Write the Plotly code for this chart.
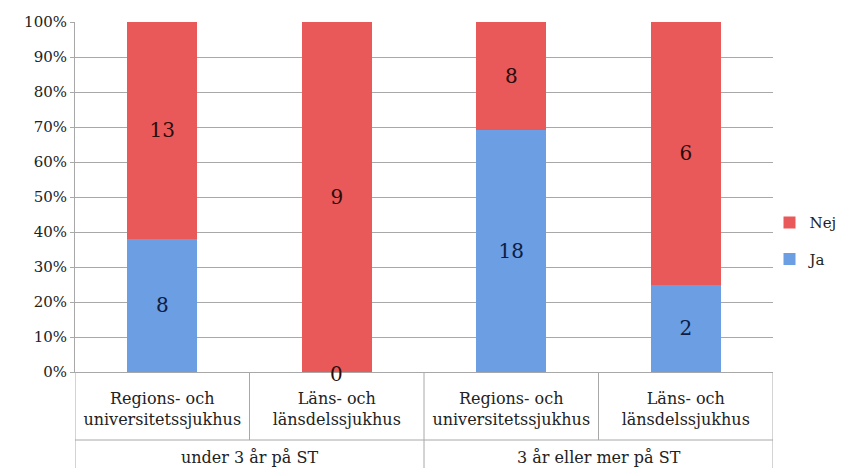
import plotly.graph_objects as go

# ---- data ----
categories = ["Regions- och<br>universitetssjukhus", "Läns- och<br>länsdelssjukhus",
              "Regions- och<br>universitetssjukhus", "Läns- och<br>länsdelssjukhus"]
groups = ["under 3 år på ST", "3 år eller mer på ST"]
ja_values = [8, 0, 18, 2]
nej_values = [13, 9, 8, 6]
y_ticks = [0, 10, 20, 30, 40, 50, 60, 70, 80, 90, 100]
y_ticktext = [f"{v}%" for v in y_ticks]

FONT = "DejaVu Serif"
RED = "#e95959"
BLUE = "#6b9ee3"
LINE = "#a8a8a8"
TXT = "#222222"

xpos = list(range(len(categories)))

fig = go.Figure()
fig.add_trace(go.Bar(
    x=xpos, y=ja_values, name="Ja", width=0.4,
    marker=dict(color=BLUE, line=dict(width=0)),
    text=[str(v) if v else "" for v in ja_values],
    textposition="inside", insidetextanchor="middle",
    textfont=dict(family=FONT, size=20, color="#0d1d45"),
    legendgroup="ja", legendrank=2, hoverinfo="skip",
))
fig.add_trace(go.Bar(
    x=xpos, y=nej_values, name="Nej", width=0.4,
    marker=dict(color=RED, line=dict(width=0)),
    text=[str(v) for v in nej_values],
    textposition="inside", insidetextanchor="middle",
    textfont=dict(family=FONT, size=20, color="#2a0d0d"),
    legendgroup="nej", legendrank=1, hoverinfo="skip",
))

annotations = []
# zero-valued "Ja" labels sit on the baseline
for i, v in enumerate(ja_values):
    if v == 0:
        annotations.append(dict(x=i, y=0, xref="x", yref="y", text=str(v), showarrow=False,
                                font=dict(family=FONT, size=20, color="#2a0d0d"), yshift=-2))
# outer group labels
for g, name in enumerate(groups):
    annotations.append(dict(x=2 * g + 0.5, y=-0.245, xref="x", yref="paper", text=name,
                            showarrow=False, font=dict(family=FONT, size=16, color=TXT),
                            yanchor="middle"))

shapes = []
row_y = -(440 - 372) / 350
bottom_y = -(468 - 372) / 350
for xb in [-0.5, 1.5, 3.5]:
    shapes.append(dict(type="line", xref="x", yref="paper", x0=xb, x1=xb, y0=0, y1=bottom_y,
                       line=dict(color=LINE, width=1)))
for xb in [0.5, 2.5]:
    shapes.append(dict(type="line", xref="x", yref="paper", x0=xb, x1=xb, y0=0, y1=row_y,
                       line=dict(color=LINE, width=1)))
shapes.append(dict(type="line", xref="x", yref="paper", x0=-0.5, x1=3.5, y0=row_y, y1=row_y,
                   line=dict(color=LINE, width=1)))

fig.update_layout(
    width=846, height=468,
    margin=dict(l=75, r=73, t=22, b=96, autoexpand=False),
    barmode="stack", barnorm="percent",
    plot_bgcolor="white", paper_bgcolor="white",
    font=dict(family=FONT, size=15, color=TXT),
    showlegend=True,
    legend=dict(x=0.995, y=0.375, xanchor="left", yanchor="middle",
                traceorder="grouped", tracegroupgap=14,
                font=dict(family=FONT, size=15, color=TXT),
                itemwidth=30, bgcolor="rgba(0,0,0,0)"),
    annotations=annotations,
    shapes=shapes,
)
fig.update_xaxes(
    range=[-0.5, 3.5], tickvals=xpos, ticktext=categories,
    tickfont=dict(family=FONT, size=16, color=TXT),
    ticks="outside", ticklen=12, tickcolor="rgba(0,0,0,0)",
    showgrid=False, showline=True, linecolor=LINE, zeroline=False,
)
fig.update_yaxes(
    range=[0, 100], tickvals=y_ticks, ticktext=y_ticktext,
    tickfont=dict(family=FONT, size=15, color=TXT),
    ticks="outside", ticklen=4, tickcolor=LINE,
    showgrid=True, gridcolor=LINE, gridwidth=1,
    showline=True, linecolor=LINE, zeroline=False,
)

fig.write_html("out.html")
